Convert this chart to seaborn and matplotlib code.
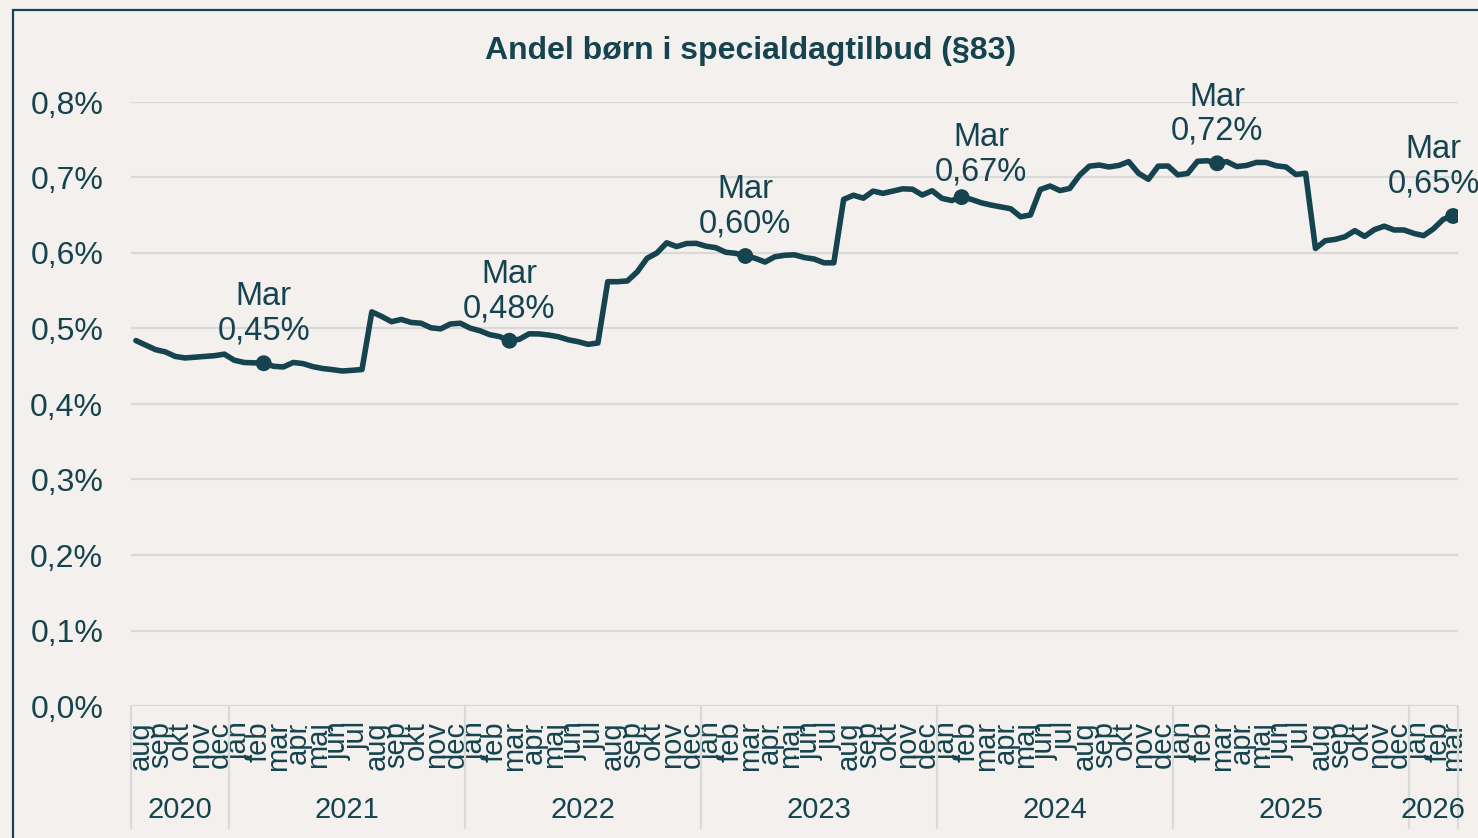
import numpy as np
import pandas as pd
import seaborn as sns
import matplotlib.pyplot as plt
import matplotlib.transforms as mtransforms
from matplotlib.patches import Rectangle
from matplotlib.ticker import FuncFormatter

# Andel (%) pr. halvmåned, aug 2020 - mar 2026
vals_2020 = [0.484, 0.478, 0.472, 0.469, 0.463, 0.461, 0.462, 0.463, 0.464, 0.466]
vals_2021 = [0.458, 0.455, 0.4545, 0.454, 0.450, 0.449, 0.455, 0.4535, 0.4495, 0.447, 0.4455, 0.4437,
             0.4446, 0.4457, 0.522, 0.516, 0.509, 0.512, 0.508, 0.507, 0.501, 0.4995, 0.506, 0.507]
vals_2022 = [0.5005, 0.497, 0.4918, 0.4893, 0.4838, 0.4857, 0.493, 0.4928, 0.4913, 0.489, 0.485, 0.4825,
             0.479, 0.4808, 0.562, 0.562, 0.563, 0.575, 0.593, 0.600, 0.6135, 0.6085, 0.6125, 0.6128]
vals_2023 = [0.609, 0.607, 0.601, 0.5996, 0.596, 0.593, 0.588, 0.595, 0.597, 0.5976, 0.594, 0.592,
             0.587, 0.587, 0.671, 0.6765, 0.6726, 0.682, 0.679, 0.682, 0.685, 0.6845, 0.6768, 0.6825]
vals_2024 = [0.6724, 0.6695, 0.674, 0.671, 0.6665, 0.6635, 0.661, 0.6586, 0.648, 0.6503, 0.684, 0.6887,
             0.6827, 0.6855, 0.703, 0.715, 0.7165, 0.714, 0.716, 0.721, 0.7056, 0.6976, 0.715, 0.7152]
vals_2025 = [0.7035, 0.7054, 0.7215, 0.7222, 0.7188, 0.721, 0.7145, 0.716, 0.720, 0.7198, 0.7155, 0.714,
             0.704, 0.7056, 0.606, 0.6163, 0.618, 0.6215, 0.6296, 0.622, 0.631, 0.6355, 0.6305, 0.6305]
vals_2026 = [0.626, 0.623, 0.632, 0.6446, 0.649]

month_names = ['jan', 'feb', 'mar', 'apr', 'maj', 'jun', 'jul', 'aug', 'sep', 'okt', 'nov', 'dec']

# punkter med label (index i serien) og label-forskydning i punkter
highlight_idx = [13, 38, 62, 84, 110, 134]
label_dx = [0, 0, 0, 14, 0, -14]
label_dy = [12, 12, 12, 7, 12, 12]

title = 'Andel børn i specialdagtilbud (§83)'

teal = '#15434F'
bg = '#F3F0ED'
gridc = '#D9D9D9'

sns.set_theme(style='white', rc={'axes.facecolor': bg, 'figure.facecolor': bg})
plt.rcParams['font.family'] = ['Liberation Sans', 'DejaVu Sans']

values = vals_2020 + vals_2021 + vals_2022 + vals_2023 + vals_2024 + vals_2025 + vals_2026
dates = pd.date_range('2020-08-01', periods=len(values), freq='SMS')
df = pd.DataFrame({'dato': dates, 'andel': values})
df['pos'] = np.arange(len(df))
df['aar'] = df['dato'].dt.year
df['md'] = df['dato'].dt.month

fig = plt.figure(figsize=(14.78, 8.38), dpi=100)
ax = fig.add_axes([131 / 1478, 132 / 838, 1327 / 1478, 604 / 838])

sns.lineplot(data=df, x='pos', y='andel', color=teal, linewidth=4.0, ax=ax)
hl = df.iloc[highlight_idx]
sns.scatterplot(data=hl, x='pos', y='andel', color=teal, s=130, edgecolor='none', ax=ax, zorder=5)

for (_, r), dx, dy in zip(hl.iterrows(), label_dx, label_dy):
    txt = 'Mar\n' + f"{r['andel']:.2f}".replace('.', ',') + '%'
    ax.annotate(txt, xy=(r['pos'], r['andel']), xytext=(dx, dy), textcoords='offset points',
                ha='center', va='bottom', fontsize=23.5, color=teal, linespacing=1.13,
                annotation_clip=False)

ax.set_xlim(-0.5, len(df) - 0.5)
ax.set_ylim(0, 0.8)
ax.set_yticks(np.arange(0, 0.81, 0.1))
ax.yaxis.set_major_formatter(FuncFormatter(lambda v, p: f"{v:.1f}".replace('.', ',') + '%'))
ax.grid(axis='y', color=gridc, linewidth=1.6)
ax.set_axisbelow(True)
for s in ax.spines.values():
    s.set_visible(False)
ax.tick_params(axis='y', length=0, pad=20, labelsize=23, labelcolor=teal)

# måneds-labels
months = df.groupby(['aar', 'md'])['pos'].mean().reset_index()
ax.set_xticks(months['pos'])
ax.set_xticklabels([month_names[m - 1] for m in months['md']], rotation=90, va='top', ha='center')
ax.tick_params(axis='x', length=0, pad=11, labelsize=21, labelcolor=teal)
ax.set_xlabel('')
ax.set_ylabel('')

# års-labels og skillelinjer
trans = mtransforms.blended_transform_factory(ax.transData, ax.transAxes)
years = df.groupby('aar')['pos'].agg(['min', 'max']).reset_index()
for _, r in years.iterrows():
    ax.text((r['min'] + r['max']) / 2, -0.172, str(r['aar']), transform=trans,
            ha='center', va='center', fontsize=21, color=teal)
bounds = list(years['min'] - 0.5) + [years['max'].iloc[-1] + 0.5]
for b in bounds:
    ax.plot([b, b], [0, -0.202], transform=trans, color=gridc, linewidth=1.6, clip_on=False)

fig.text(751 / 1478, 1 - 51 / 838, title, ha='center', va='center', fontsize=23,
         fontweight='bold', color=teal)

fig.patches.append(Rectangle((13 / 1478, -0.5), 2, 1.5 - 10 / 838, transform=fig.transFigure,
                             fill=False, edgecolor=teal, linewidth=1.6))

fig.savefig('out.png', dpi=100, facecolor=bg)
